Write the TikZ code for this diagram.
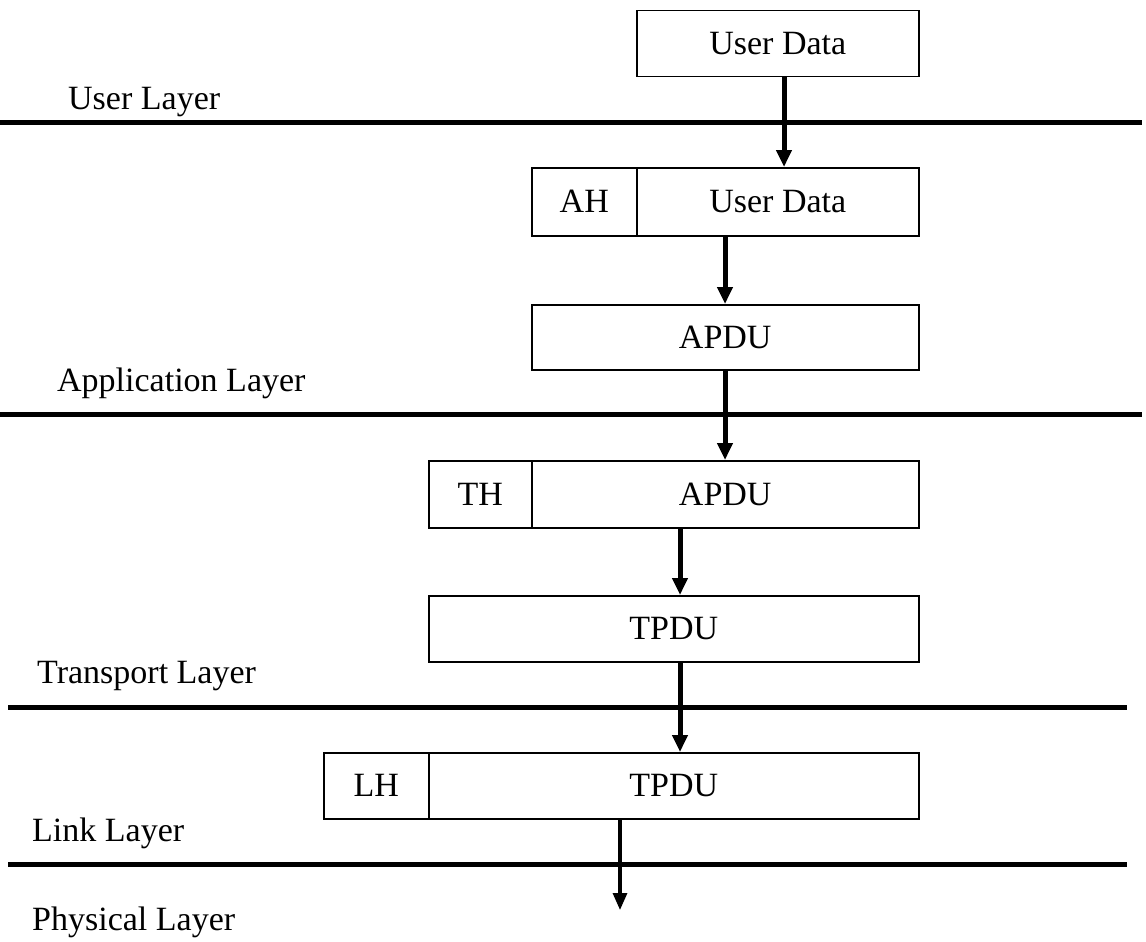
\documentclass[tikz,border=0pt]{standalone}
\usepackage{fontspec}
\setmainfont{Liberation Serif}
\usetikzlibrary{arrows.meta}
\begin{document}
\begin{tikzpicture}[x=1pt,y=-1pt,
  font=\fontsize{34}{39}\selectfont,
  pdu/.style={draw, line width=1.5pt, rectangle, inner sep=0pt, anchor=north west},
  flow/.style={line width=5pt, -{Triangle[length=17pt,width=15pt]}},
  flowthin/.style={line width=3.2pt, -{Triangle[length=17pt,width=14pt]}},
  layerline/.style={line width=5pt},
  layerlabel/.style={anchor=base west, inner sep=0pt}]
\useasboundingbox (0,0) rectangle (1146,942);

% layer boundaries
\coordinate (l1a) at (0,122);   \coordinate (l1b) at (1142,122);
\coordinate (l2a) at (0,414);   \coordinate (l2b) at (1142,414);
\coordinate (l3a) at (8,707);   \coordinate (l3b) at (1127,707);
\coordinate (l4a) at (8,864);   \coordinate (l4b) at (1127,864);
\draw[layerline] (l1a) -- (l1b);
\draw[layerline] (l2a) -- (l2b);
\draw[layerline] (l3a) -- (l3b);
\draw[layerline] (l4a) -- (l4b);

% layer names
\node[layerlabel] (nuser) at (68,110) {User Layer};
\node[layerlabel] (napp)  at (57,391) {Application Layer};
\node[layerlabel] (ntra)  at (37,683) {Transport Layer};
\node[layerlabel] (nlink) at (32,841) {Link Layer};
\node[layerlabel] (nphy)  at (32,930) {Physical Layer};

% data units
\node[pdu, minimum width=282pt, minimum height=66pt] (ud1) at (636,10) {User Data};

\node[pdu, minimum width=105pt, minimum height=68pt] (ah)  at (531,167) {AH};
\node[pdu, minimum width=282pt, minimum height=68pt] (ud2) at (636,167) {User Data};

\node[pdu, minimum width=387pt, minimum height=65pt] (apdu1) at (531,304) {APDU};

\node[pdu, minimum width=103pt, minimum height=67pt] (th)    at (428,460) {TH};
\node[pdu, minimum width=387pt, minimum height=67pt] (apdu2) at (531,460) {APDU};

\node[pdu, minimum width=490pt, minimum height=66pt] (tpdu1) at (428,595) {TPDU};

\node[pdu, minimum width=105pt, minimum height=66pt] (lh)    at (323,752) {LH};
\node[pdu, minimum width=490pt, minimum height=66pt] (tpdu2) at (428,752) {TPDU};

\coordinate (phy) at (620,910);

% encapsulation flow
\draw[flow] (ud1.south -| 784,0) -- (ud2.north -| 784,0);
\draw[flow] (ud2.south -| 725,0) -- (apdu1.north -| 725,0);
\draw[flow] (apdu1.south -| 725,0) -- (apdu2.north -| 725,0);
\draw[flow] (apdu2.south -| 680,0) -- (tpdu1.north -| 680,0);
\draw[flow] (tpdu1.south -| 680,0) -- (tpdu2.north -| 680,0);
\draw[flowthin] (tpdu2.south -| phy) -- (phy);
\end{tikzpicture}
\end{document}
